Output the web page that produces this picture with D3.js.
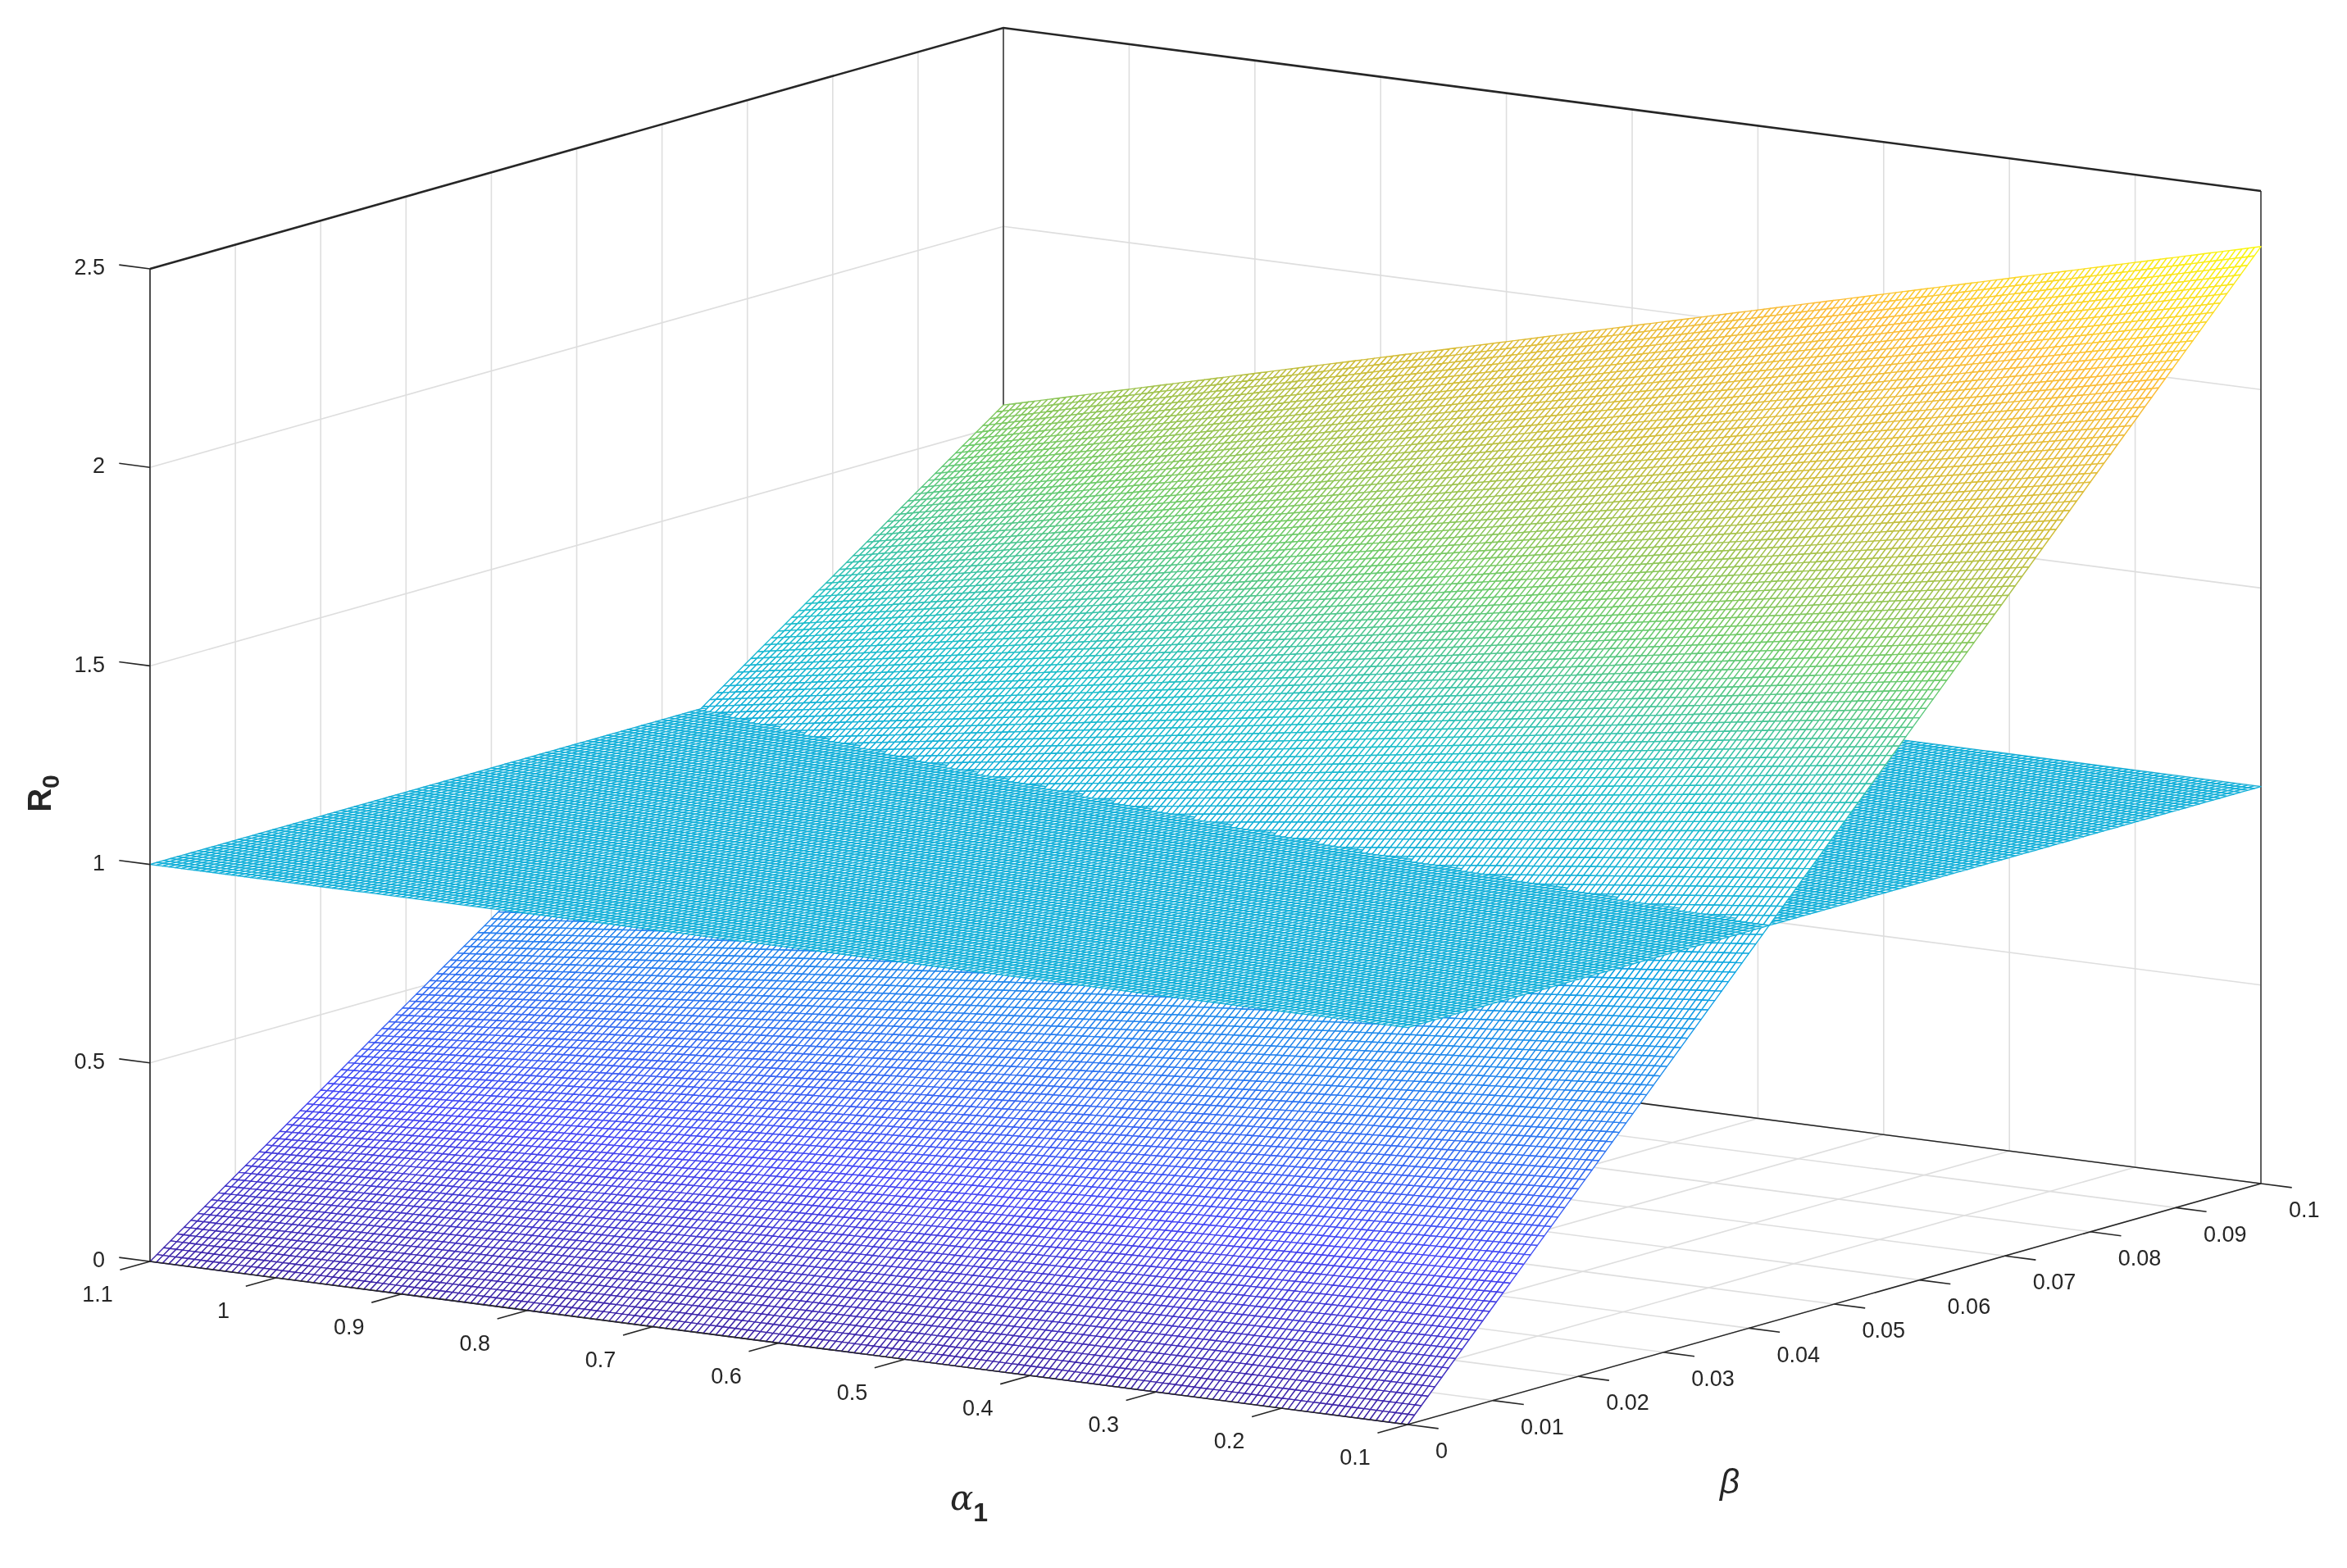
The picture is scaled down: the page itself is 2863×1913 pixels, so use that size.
<!DOCTYPE html>
<html>
<head>
<meta charset="utf-8">
<script src="https://cdn.jsdelivr.net/npm/d3@7"></script>
<style>
  body { margin: 0; background: #fff; }
  #wrap { position: relative; width: 2863px; height: 1913px; }
  #wrap > * { position: absolute; left: 0; top: 0; }
  text { font-family: "Liberation Sans", Arial, sans-serif; fill: #262626; }
</style>
</head>
<body>
<div id="wrap">
  <svg id="back" width="2863" height="1913"></svg>
  <canvas id="mesh" width="2863" height="1913"></canvas>
  <svg id="front" width="2863" height="1913"></svg>
</div>
<script>
(function () {
    const width = 2863;
    const height = 1913;

    // tick labels
    const alphaTicks = [1.1, 1, 0.9, 0.8, 0.7, 0.6, 0.5, 0.4, 0.3, 0.2, 0.1];
    const betaTicks = [0, 0.01, 0.02, 0.03, 0.04, 0.05, 0.06, 0.07, 0.08, 0.09, 0.1];
    const zTicks = [0, 0.5, 1, 1.5, 2, 2.5];

    // mesh grid (alpha1 = 0.1:0.005:1.1, beta = 0:0.0008:0.1)
    const alphaGrid = d3.range(0, 201).map(i => 0.1 + i * 0.005);
    const betaGrid = d3.range(0, 126).map(j => j * 0.0008);

    // R0 of the sloped surface at beta = 0.1 (read at alpha1 = 0.1 and 1.1), zero at beta = 0
    const r0AtBetaMax = [2.36, 1.55];
    const r0Threshold = 1; // flat plane R0 = 1

    // axis scales -> normalized box coordinates
    const u = d3.scaleLinear().domain([1.1, 0.1]).range([0, 1]);
    const v = d3.scaleLinear().domain([0, 0.1]).range([0, 1]);
    const w = d3.scaleLinear().domain([0, 2.5]).range([0, 1]);

    // orthographic view of the box (screen vectors for each axis)
    const O = [183, 1539], A = [1534, 199], B = [1041, -294], C = [0, -1211];
    function P(a, b, c) {
        const x = u(a), y = v(b), z = w(c);
        return [O[0] + x * A[0] + y * B[0] + z * C[0],
                O[1] + x * A[1] + y * B[1] + z * C[1]];
    }
    // nearness to viewer, along the projection direction
    function near(a, b, c) { return u(a) - 1.47 * v(b) + 0.52 * w(c); }

    const slopeAt = d3.scaleLinear().domain([0.1, 1.1]).range(r0AtBetaMax.map(d => d / 0.1));
    const sloped = (a, b) => b * slopeAt(a);
    const flat = () => r0Threshold;

    const parulaStops = ["#3e26a8", "#4748f5", "#2a80f0", "#0ea6e2", "#1fbfca",
                         "#6fcb6a", "#d0bd3a", "#fdbd3a", "#f9fb0e"];
    const zMax = r0AtBetaMax[0];
    const color = d3.scaleLinear()
        .domain(d3.range(parulaStops.length).map(i => i / (parulaStops.length - 1) * zMax))
        .range(parulaStops).clamp(true);

    // ---- back layer: grids and box
    const back = d3.select("#back");
    const line = d3.line();
    const grid = back.append("g").attr("fill", "none").attr("stroke", "#dedede").attr("stroke-width", 1.6);
    alphaTicks.forEach(a => {
        grid.append("path").attr("d", line([P(a, 0.1, 0), P(a, 0.1, 2.5)]));
        grid.append("path").attr("d", line([P(a, 0, 0), P(a, 0.1, 0)]));
    });
    betaTicks.forEach(b => {
        grid.append("path").attr("d", line([P(1.1, b, 0), P(1.1, b, 2.5)]));
        grid.append("path").attr("d", line([P(1.1, b, 0), P(0.1, b, 0)]));
    });
    zTicks.forEach(z => {
        grid.append("path").attr("d", line([P(1.1, 0, z), P(1.1, 0.1, z), P(0.1, 0.1, z)]));
    });
    const box = back.append("g").attr("fill", "none").attr("stroke", "#262626");
    box.append("path").attr("stroke-width", 2.6)
        .attr("d", line([P(1.1, 0, 2.5), P(1.1, 0.1, 2.5), P(0.1, 0.1, 2.5)]));
    box.append("path").attr("stroke-width", 1.6)
        .attr("d", line([P(1.1, 0, 0), P(1.1, 0.1, 0), P(0.1, 0.1, 0)]));
    box.append("path").attr("stroke-width", 1.4).attr("d", line([P(1.1, 0.1, 0), P(1.1, 0.1, 2.5)]));
    box.append("path").attr("stroke-width", 1.4).attr("d", line([P(0.1, 0.1, 0), P(0.1, 0.1, 2.5)]));

    // ---- mesh: white faces, coloured edges, painter's order
    const quads = [];
    [sloped, flat].forEach(f => {
        for (let i = 0; i < alphaGrid.length - 1; i++) {
            for (let j = 0; j < betaGrid.length - 1; j++) {
                const a0 = alphaGrid[i], a1 = alphaGrid[i + 1];
                const b0 = betaGrid[j], b1 = betaGrid[j + 1];
                const z00 = f(a0, b0), z10 = f(a1, b0), z11 = f(a1, b1), z01 = f(a0, b1);
                quads.push({
                    pts: [P(a0, b0, z00), P(a1, b0, z10), P(a1, b1, z11), P(a0, b1, z01)],
                    d: near((a0 + a1) / 2, (b0 + b1) / 2, (z00 + z11) / 2),
                    c: color(z00)
                });
            }
        }
    });
    quads.sort((p, q) => p.d - q.d);
    const ctx = document.getElementById("mesh").getContext("2d");
    ctx.lineWidth = 1.4;
    ctx.lineJoin = "round";
    quads.forEach(q => {
        ctx.beginPath();
        ctx.moveTo(q.pts[0][0], q.pts[0][1]);
        for (let k = 1; k < 4; k++) ctx.lineTo(q.pts[k][0], q.pts[k][1]);
        ctx.closePath();
        ctx.fillStyle = "#ffffff";
        ctx.fill();
        ctx.strokeStyle = q.c;
        ctx.stroke();
    });

    // ---- front layer: axes, ticks, labels
    const front = d3.select("#front");
    const ax = front.append("g").attr("fill", "none").attr("stroke", "#262626").attr("stroke-width", 1.6);
    ax.append("path").attr("d", line([P(1.1, 0, 0), P(1.1, 0, 2.5)]));
    ax.append("path").attr("d", line([P(1.1, 0, 0), P(0.1, 0, 0), P(0.1, 0.1, 0)]));

    const tickLen = 38;
    const unit = vec => { const n = Math.hypot(vec[0], vec[1]); return [vec[0] / n, vec[1] / n]; };
    const dA = unit(A), dB = unit(B);

    zTicks.forEach(z => {
        const p = P(1.1, 0, z);
        ax.append("path").attr("d", line([p, [p[0] - dA[0] * tickLen, p[1] - dA[1] * tickLen]]));
        front.append("text").attr("x", 128).attr("y", p[1]).attr("text-anchor", "end")
            .attr("dominant-baseline", "middle").attr("font-size", 27).text(z);
    });
    alphaTicks.forEach(a => {
        const p = P(a, 0, 0);
        ax.append("path").attr("d", line([p, [p[0] - dB[0] * tickLen, p[1] - dB[1] * tickLen]]));
        front.append("text").attr("x", p[0] - 64).attr("y", p[1] + 42).attr("text-anchor", "middle")
            .attr("dominant-baseline", "middle").attr("font-size", 27).text(a);
    });
    betaTicks.forEach(b => {
        const p = P(0.1, b, 0);
        ax.append("path").attr("d", line([p, [p[0] + dA[0] * tickLen, p[1] + dA[1] * tickLen]]));
        front.append("text").attr("x", p[0] + 34).attr("y", p[1] + 34).attr("text-anchor", "start")
            .attr("dominant-baseline", "middle").attr("font-size", 27).text(b);
    });

    const aLab = front.append("text").attr("x", 1182).attr("y", 1842).attr("text-anchor", "middle")
        .attr("font-size", 42);
    aLab.append("tspan").attr("font-family", "DejaVu Serif").attr("font-style", "italic").text("α");
    aLab.append("tspan").attr("font-weight", "bold").attr("font-size", 32).attr("dy", 14).text("1");

    front.append("text").attr("x", 2110).attr("y", 1822).attr("text-anchor", "middle")
        .attr("font-size", 42).attr("font-family", "DejaVu Serif").attr("font-style", "italic").text("β");

    const rLab = front.append("text").attr("transform", "translate(62,968) rotate(-90)")
        .attr("text-anchor", "middle").attr("font-size", 40).attr("font-weight", "bold");
    rLab.append("tspan").text("R");
    rLab.append("tspan").attr("font-size", 30).attr("dy", 10).text("0");
})();
</script>
</body>
</html>
